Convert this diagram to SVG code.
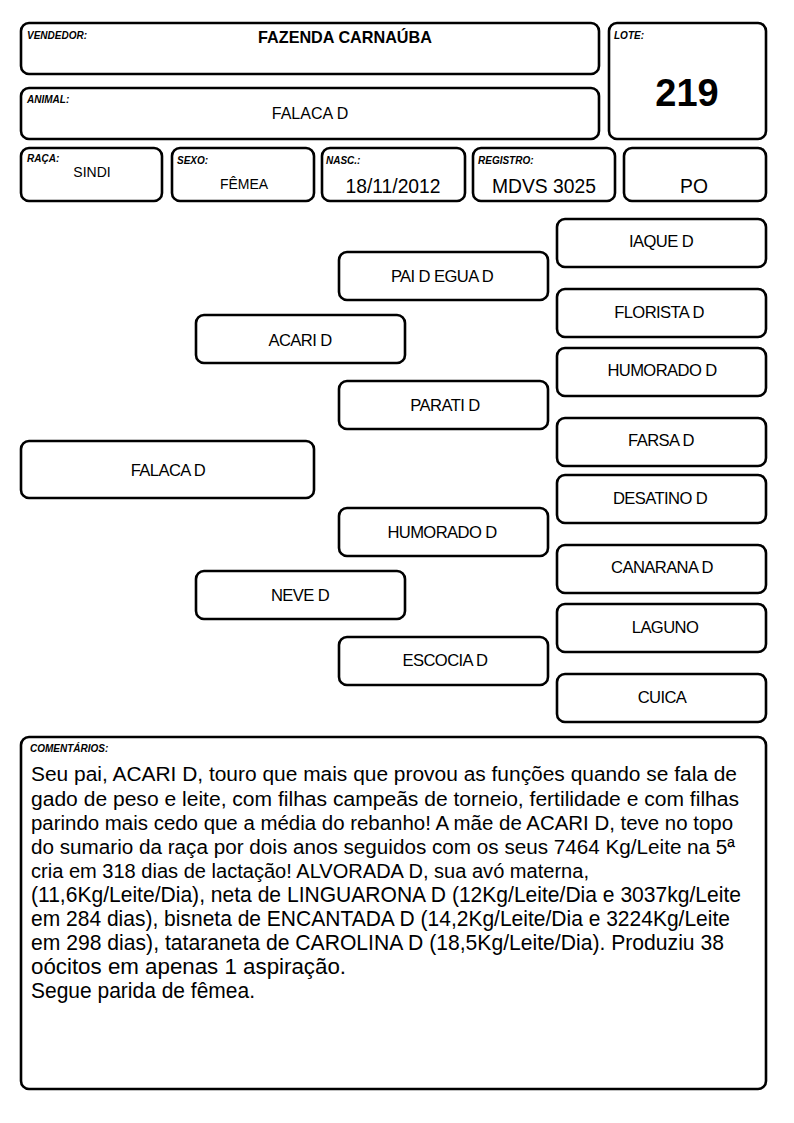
<svg xmlns="http://www.w3.org/2000/svg" width="794" height="1123" viewBox="0 0 794 1123">
<style>
.b{fill:#fff;stroke:#000;stroke-width:2.6}
.lb{font-family:"Liberation Sans",Arial,sans-serif;font-size:10px;font-weight:bold;font-style:italic;fill:#000}
.v{font-family:"Liberation Sans",Arial,sans-serif;font-size:16px;fill:#000;text-anchor:middle}
.s14{font-size:14px}
.s17{font-size:19.3px}
.big{font-size:38px;font-weight:bold}
.bold{font-weight:bold;font-size:16.2px}
.p{font-family:"Liberation Sans",Arial,sans-serif;font-size:16.6px;fill:#000;text-anchor:middle;letter-spacing:-0.6px}
.c{font-family:"Liberation Sans",Arial,sans-serif;font-size:20px;fill:#000}
.c2{font-size:21.5px}
</style>
<rect width="794" height="1123" fill="#fff"/>
<g id="vendedor"><rect class="b" x="21" y="23" width="578" height="51" rx="8"/><text class="lb" x="27" y="39">VENDEDOR:</text><text class="v bold" x="345" y="43">FAZENDA CARNAÚBA</text></g>
<g id="animal"><rect class="b" x="21" y="88" width="578" height="51" rx="8"/><text class="lb" x="27" y="103">ANIMAL:</text><text class="v" x="310" y="119">FALACA D</text></g>
<g id="lote"><rect class="b" x="609" y="23" width="157" height="116" rx="8"/><text class="lb" x="614" y="39">LOTE:</text><text class="v big" x="687" y="106">219</text></g>
<g id="raca"><rect class="b" x="21" y="148" width="141" height="53" rx="8"/><text class="lb" x="27" y="162">RAÇA:</text><text class="v s14" x="92" y="177">SINDI</text></g>
<g id="sexo"><rect class="b" x="172" y="148" width="142" height="53" rx="8"/><text class="lb" x="177" y="164">SEXO:</text><text class="v s14" x="244" y="189">FÊMEA</text></g>
<g id="nasc"><rect class="b" x="322" y="148" width="143" height="53" rx="8"/><text class="lb" x="326" y="164">NASC.:</text><text class="v s17" x="393" y="193">18/11/2012</text></g>
<g id="registro"><rect class="b" x="473" y="148" width="142" height="53" rx="8"/><text class="lb" x="478" y="164">REGISTRO:</text><text class="v s17" x="544" y="193">MDVS 3025</text></g>
<g id="po"><rect class="b" x="624" y="148" width="142" height="53" rx="8"/><text class="v s17" x="694" y="193">PO</text></g>

<g id="n-falaca"><rect class="b" x="21" y="441" width="293" height="57" rx="8"/><text class="p" x="168" y="476">FALACA D</text></g>
<g id="n-acari"><rect class="b" x="196" y="315" width="209" height="48" rx="8"/><text class="p" x="300" y="346">ACARI D</text></g>
<g id="n-neve"><rect class="b" x="196" y="571" width="209" height="48" rx="8"/><text class="p" x="300" y="601">NEVE D</text></g>
<g id="n-paidegua"><rect class="b" x="339" y="252" width="209" height="48" rx="8"/><text class="p" x="442" y="282">PAI D EGUA D</text></g>
<g id="n-parati"><rect class="b" x="339" y="381" width="209" height="48" rx="8"/><text class="p" x="445" y="411">PARATI D</text></g>
<g id="n-humorado1"><rect class="b" x="339" y="508" width="209" height="48" rx="8"/><text class="p" x="442" y="538">HUMORADO D</text></g>
<g id="n-escocia"><rect class="b" x="339" y="637" width="209" height="48" rx="8"/><text class="p" x="445" y="666">ESCOCIA D</text></g>
<g id="n-iaque"><rect class="b" x="557" y="219" width="209" height="48" rx="8"/><text class="p" x="661" y="247">IAQUE D</text></g>
<g id="n-florista"><rect class="b" x="557" y="289" width="209" height="48" rx="8"/><text class="p" x="659" y="318">FLORISTA D</text></g>
<g id="n-humorado2"><rect class="b" x="557" y="348" width="209" height="48" rx="8"/><text class="p" x="662" y="376">HUMORADO D</text></g>
<g id="n-farsa"><rect class="b" x="557" y="418" width="209" height="48" rx="8"/><text class="p" x="661" y="446">FARSA D</text></g>
<g id="n-desatino"><rect class="b" x="557" y="475" width="209" height="48" rx="8"/><text class="p" x="660" y="504">DESATINO D</text></g>
<g id="n-canarana"><rect class="b" x="557" y="545" width="209" height="48" rx="8"/><text class="p" x="662" y="573">CANARANA D</text></g>
<g id="n-laguno"><rect class="b" x="557" y="604" width="209" height="48" rx="8"/><text class="p" x="665" y="633">LAGUNO</text></g>
<g id="n-cuica"><rect class="b" x="557" y="674" width="209" height="48" rx="8"/><text class="p" x="662" y="703">CUICA</text></g>
<g id="connectors"></g>

<g id="comentarios"><rect class="b" x="21" y="737" width="745" height="352" rx="8"/><text class="lb" x="30" y="752">COMENTÁRIOS:</text>
<text class="c" x="31" y="781" textLength="706" lengthAdjust="spacingAndGlyphs">Seu pai, ACARI D, touro que mais que provou as funções quando se fala de</text>
<text class="c" x="31" y="806" textLength="708" lengthAdjust="spacingAndGlyphs">gado de peso e leite, com filhas campeãs de torneio, fertilidade e com filhas</text>
<text class="c" x="31" y="830" textLength="702" lengthAdjust="spacingAndGlyphs">parindo mais cedo que a média do rebanho! A mãe de ACARI D, teve no topo</text>
<text class="c" x="31" y="854" textLength="704" lengthAdjust="spacingAndGlyphs">do sumario da raça por dois anos seguidos com os seus 7464 Kg/Leite na 5ª</text>
<text class="c" x="31" y="878" textLength="558" lengthAdjust="spacingAndGlyphs">cria em 318 dias de lactação! ALVORADA D, sua avó materna,</text>
<text class="c c2" x="31" y="902" textLength="710" lengthAdjust="spacingAndGlyphs">(11,6Kg/Leite/Dia), neta de LINGUARONA D (12Kg/Leite/Dia e 3037kg/Leite</text>
<text class="c c2" x="31" y="926" textLength="699" lengthAdjust="spacingAndGlyphs">em 284 dias), bisneta de ENCANTADA D (14,2Kg/Leite/Dia e 3224Kg/Leite</text>
<text class="c c2" x="31" y="950" textLength="693" lengthAdjust="spacingAndGlyphs">em 298 dias), tataraneta de CAROLINA D (18,5Kg/Leite/Dia). Produziu 38</text>
<text class="c c2" x="31" y="974" textLength="315" lengthAdjust="spacingAndGlyphs">oócitos em apenas 1 aspiração.</text>
<text class="c c2" x="31" y="998" textLength="224" lengthAdjust="spacingAndGlyphs">Segue parida de fêmea.</text>
</g>
</svg>
